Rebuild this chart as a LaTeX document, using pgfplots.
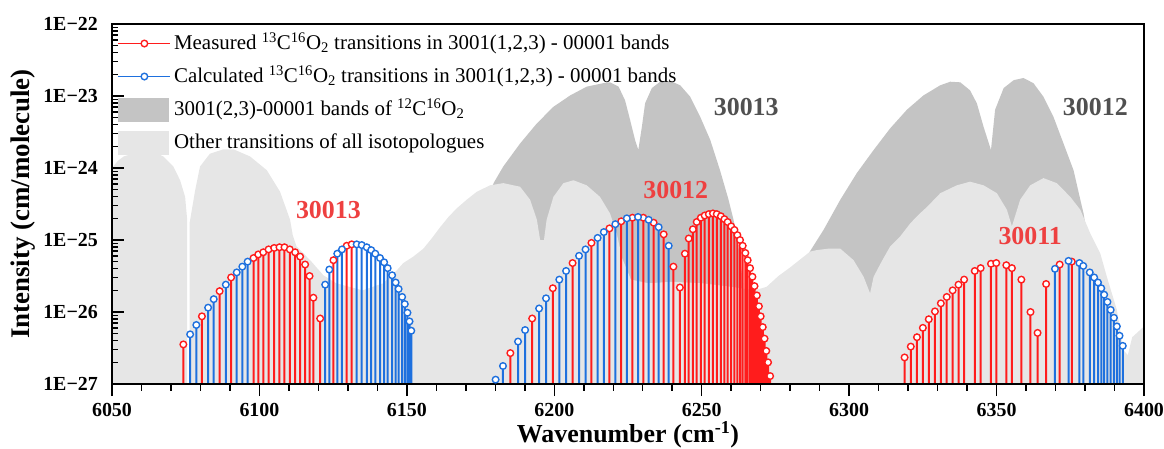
\documentclass[border=0pt]{standalone}
\usepackage{pgfplots}
\pgfplotsset{compat=1.18}
\usepackage{fontspec}
\setmainfont{Liberation Serif}
\definecolor{cred}{RGB}{255,28,28}
\definecolor{cblue}{RGB}{30,112,222}
\definecolor{gdark}{RGB}{196,196,196}
\definecolor{glight}{RGB}{230,230,230}
\definecolor{lblred}{RGB}{238,64,64}
\definecolor{lblgray}{RGB}{80,80,80}
\pgfplotsset{
  stem/.style={ybar, bar shift=0pt, bar width=2bp, draw=none, fill=#1,
    mark=*, mark size=3.3bp, mark options={draw=#1, fill=white, line width=1.4bp}, forget plot},
}
\begin{document}
\begin{tikzpicture}
\begin{axis}[
  scale only axis, width=1032bp, height=360bp,
  xmin=6050, xmax=6400, ymode=log, ymin=1e-27, ymax=1e-22, log origin=infty,
  axis on top,
  xtick={6050,6100,6150,6200,6250,6300,6350,6400},
  xticklabels={6050,6100,6150,6200,6250,6300,6350,6400},
  minor x tick num=4,
  ytick={1e-27,1e-26,1e-25,1e-24,1e-23,1e-22},
  yticklabels={1E−27,1E−26,1E−25,1E−24,1E−23,1E−22},
  minor ytick={2e-27,3e-27,4e-27,5e-27,6e-27,7e-27,8e-27,9e-27,
    2e-26,3e-26,4e-26,5e-26,6e-26,7e-26,8e-26,9e-26,
    2e-25,3e-25,4e-25,5e-25,6e-25,7e-25,8e-25,9e-25,
    2e-24,3e-24,4e-24,5e-24,6e-24,7e-24,8e-24,9e-24,
    2e-23,3e-23,4e-23,5e-23,6e-23,7e-23,8e-23,9e-23},
  xtick pos=bottom, ytick pos=left,
  tick align=inside,
  major tick length=12bp, minor tick length=6.5bp,
  every tick/.style={black, line width=1.5bp},
  major x tick style={yshift=-12bp},
  minor x tick style={yshift=-6.5bp},
  axis line style={line width=1.6bp},
  xticklabel style={font=\fontsize{20}{24}\selectfont\bfseries, inner sep=0pt, anchor=north, yshift=-19bp},
  yticklabel style={font=\fontsize{20}{24}\selectfont\bfseries, inner sep=0pt, anchor=east, xshift=-14bp},
  xlabel={Wavenumber (cm\textsuperscript{-1})},
  ylabel={Intensity (cm/molecule)},
  xlabel style={font=\fontsize{26}{31}\selectfont\bfseries, inner sep=0pt, at={(axis description cs:0.5,-0.163)}, anchor=base},
  ylabel style={font=\fontsize{27}{32}\selectfont\bfseries, inner sep=0pt, at={(axis description cs:-0.0795,0.5)}, anchor=base},
  legend style={at={(0,1)}, anchor=north west, xshift=5.5bp, yshift=-7.3bp,
    draw=none, fill=none, inner sep=0pt, row sep=9bp, column sep=3bp,
    nodes={inner sep=0pt, text height=17bp, text depth=5bp, font=\fontsize{21}{25}\selectfont}},
  legend cell align=left,
]
% dark gray: 3001(2,3)-00001 bands of 12C16O2
\addplot[fill=gdark, draw=none, forget plot] coordinates {
(6177,1e-27) (6177,3.16e-25) (6179.4,6.17e-25) (6182.7,1.05e-24) (6188.4,2.19e-24) (6194.1,4.17e-24)
(6199.7,7.08e-24) (6205.4,1.02e-23) (6211.0,1.35e-23) (6216.7,1.51e-23) (6218.9,1.55e-23)
(6221.8,1.35e-23) (6224.0,8.71e-24) (6225.7,4.68e-24) (6227.4,2.45e-24) (6228.5,1.78e-24)
(6229.7,3.72e-24) (6230.8,7.94e-24) (6233.1,1.29e-23) (6235.9,1.58e-23) (6239.3,1.62e-23)
(6242.7,1.41e-23) (6246.1,9.77e-24) (6249.5,5.13e-24) (6252.9,2.45e-24) (6256.2,9.33e-25)
(6259.1,3.63e-25) (6260.8,1.91e-25) (6262.5,7.94e-26) (6264,2.51e-26) (6264,1e-27)};
\addplot[fill=gdark, draw=none, forget plot] coordinates {
(6283,1e-27) (6283,3.16e-26) (6285.6,5.89e-26) (6291.3,1.38e-25) (6297,3.63e-25) (6302.6,8.51e-25)
(6308.3,1.78e-24) (6313.9,3.55e-24) (6319.6,6.46e-24) (6325.2,1.02e-23) (6330.9,1.41e-23)
(6334.3,1.58e-23) (6337.7,1.55e-23) (6341.0,1.20e-23) (6343.3,7.94e-24) (6345.6,3.72e-24)
(6348.1,1.78e-24) (6349.5,6.46e-24) (6352.4,1.29e-23) (6355.8,1.66e-23) (6359.1,1.78e-23)
(6362.5,1.51e-23) (6365.9,9.77e-24) (6369.3,5.13e-24) (6372.7,2.19e-24) (6376.1,9.33e-25)
(6378.4,3.63e-25) (6379.5,2.34e-25) (6381,1.00e-25) (6382,3.16e-26) (6382,1e-27)};
% light gray: other transitions
\addplot[fill=glight, draw=none, forget plot] coordinates {
(6050,1e-27) (6050,1.00e-24) (6052,1.26e-24) (6054,1.45e-24) (6059.5,1.70e-24) (6064.0,1.70e-24)
(6067.4,1.45e-24) (6070.8,1.05e-24) (6073.1,6.76e-25) (6074.8,3.98e-25) (6075.5,1.91e-25) (6075.5,1e-27)};
\addplot[fill=glight, draw=none, forget plot] coordinates {
(6076.3,1e-27) (6076.3,1.70e-25) (6078.2,4.90e-25) (6079.85,1.05e-24) (6083.2,1.58e-24)
(6087.8,1.82e-24) (6091.2,1.82e-24) (6096.8,1.45e-24) (6102.5,9.33e-25) (6107.0,4.68e-25)
(6110.4,1.91e-25) (6111.3,1.17e-25) (6112.6,8.13e-26) (6117.2,5.25e-26) (6121.7,3.24e-26)
(6126,2.51e-26) (6135,2.00e-26) (6142,2.51e-26) (6146.6,3.80e-26) (6148.8,4.79e-26)
(6152.2,5.89e-26) (6155.6,7.59e-26) (6158.4,1.05e-25) (6161.3,1.51e-25) (6164.1,2.09e-25)
(6166.9,2.75e-25) (6170.3,3.63e-25) (6173.7,4.68e-25) (6178.2,5.75e-25) (6182.7,6.17e-25)
(6188.4,5.50e-25) (6191.8,3.63e-25) (6194.1,1.91e-25) (6195.2,1.00e-25) (6196.5,1.00e-25)
(6197.4,1.91e-25) (6199.7,3.98e-25) (6203.1,6.17e-25) (6206.5,6.76e-25) (6211.0,5.75e-25)
(6215.5,3.98e-25) (6218.9,2.34e-25) (6221.2,1.23e-25) (6223,5.62e-26) (6226,2.82e-26)
(6232,2.51e-26) (6240,2.63e-26) (6250,2.51e-26) (6260,2.24e-26) (6268,2.00e-26)
(6272,2.24e-26) (6276,3.16e-26) (6280,4.17e-26) (6284,5.62e-26) (6286.8,6.92e-26)
(6289,7.24e-26) (6293,7.59e-26) (6297,7.59e-26) (6301.5,5.25e-26) (6304.9,3.09e-26)
(6307.1,1.82e-26) (6308.3,3.09e-26) (6311,5.01e-26) (6313.9,8.13e-26) (6317.3,1.12e-25)
(6320.7,1.70e-25) (6323.5,2.24e-25) (6326.4,2.88e-25) (6330.9,4.47e-25) (6336.5,5.75e-25)
(6341.0,6.46e-25) (6345.6,5.75e-25) (6350.1,4.47e-25) (6353.5,2.63e-25) (6355.2,1.55e-25)
(6358.0,3.63e-25) (6361.4,5.75e-25) (6365.9,7.24e-25) (6370.4,6.17e-25) (6375.0,3.98e-25)
(6378.4,2.63e-25) (6381.8,1.23e-25) (6385.2,6.46e-26) (6387.4,3.09e-26) (6390.8,1.07e-26)
(6393.1,2.95e-27) (6394.5,2.51e-27) (6396,4.47e-27) (6400,6.31e-27) (6400,1e-27)};
% measured (red)
\addplot[stem=cred] coordinates {
(6074.2,3.55e-27) (6080.5,8.71e-27) (6086.5,1.95e-26) (6090.4,3.02e-26) (6098.0,5.62e-26)
(6099.6,6.31e-26) (6101.3,6.76e-26) (6103.1,7.41e-26) (6105.0,7.76e-26) (6106.8,7.94e-26)
(6108.5,7.94e-26) (6110.3,7.41e-26) (6112.1,6.76e-26) (6113.8,5.89e-26) (6115.5,4.57e-26)
(6117.0,3.16e-26) (6118.3,1.58e-26) (6120.6,8.13e-27) (6125.1,5.25e-26) (6129.6,8.32e-26)
(6131.3,8.71e-26)
(6185.1,2.69e-27) (6192.5,8.13e-27) (6199.5,2.14e-26) (6206.2,4.79e-26) (6212.6,9.12e-26)
(6218.7,1.45e-25) (6222.7,1.82e-25) (6226.5,2.04e-25) (6230.2,2.04e-25) (6233.7,1.74e-25)
(6237.1,1.20e-25) (6240.4,4.27e-26) (6242.6,2.19e-26) (6244.3,6.46e-26) (6245.6,1.05e-25)
(6247.0,1.41e-25) (6248.3,1.78e-25) (6249.7,2.04e-25) (6251.0,2.19e-25) (6252.4,2.29e-25)
(6253.8,2.34e-25) (6255.1,2.29e-25) (6256.5,2.14e-25) (6257.7,1.95e-25) (6258.8,1.78e-25)
(6260.0,1.55e-25) (6261.1,1.38e-25) (6262.1,1.17e-25) (6263.0,1.00e-25) (6263.9,8.32e-26)
(6264.8,6.61e-26) (6265.6,5.25e-26) (6266.4,4.07e-26) (6267.2,3.09e-26) (6267.9,2.29e-26)
(6268.7,1.70e-26) (6269.4,1.20e-26) (6270.0,8.71e-27) (6270.7,6.17e-27) (6271.3,4.27e-27)
(6271.9,2.88e-27) (6272.5,2.00e-27) (6273.2,1.29e-27)
(6318.8,2.34e-27) (6320.9,3.31e-27) (6323.0,4.47e-27) (6325.0,6.03e-27) (6327.0,7.94e-27)
(6329.1,1.02e-26) (6331.1,1.32e-26) (6333.1,1.62e-26) (6335.1,2.00e-26) (6337.1,2.40e-26)
(6339.0,2.82e-26) (6342.6,3.72e-26) (6344.6,4.07e-26) (6348.1,4.68e-26) (6349.9,4.79e-26)
(6353.3,4.47e-26) (6355.2,4.07e-26) (6358.4,2.82e-26) (6361.5,1.00e-26) (6363.9,5.13e-27)
(6366.8,2.45e-26) (6371.4,4.57e-26) (6375.5,5.01e-26)};
% calculated (blue)
\addplot[stem=cblue] coordinates {
(6076.5,4.90e-27) (6078.6,6.61e-27) (6082.6,1.15e-26) (6084.5,1.51e-26) (6088.6,2.40e-26)
(6092.3,3.55e-26) (6094.2,4.27e-26) (6096.0,5.01e-26) (6122.3,2.40e-26) (6123.7,3.89e-26)
(6126.4,6.46e-26) (6128.0,7.41e-26) (6133.0,8.71e-26) (6134.7,8.51e-26) (6136.4,7.94e-26)
(6137.9,7.24e-26) (6139.3,6.46e-26) (6140.9,5.62e-26) (6142.3,4.90e-26) (6143.5,4.07e-26)
(6145.0,3.24e-26) (6146.2,2.57e-26) (6147.2,2.09e-26) (6148.4,1.62e-26) (6149.3,1.29e-26)
(6150.2,9.77e-27) (6150.9,7.41e-27) (6151.5,5.50e-27)
(6180.1,1.15e-27) (6182.6,1.78e-27) (6187.7,3.89e-27) (6190.1,5.62e-27) (6194.85,1.12e-26)
(6197.2,1.55e-26) (6201.7,2.82e-26) (6204.0,3.72e-26) (6208.4,6.03e-26) (6210.6,7.41e-26)
(6214.7,1.07e-25) (6216.8,1.29e-25) (6220.7,1.66e-25) (6224.6,2.00e-25) (6228.4,2.09e-25)
(6232.0,1.91e-25) (6235.4,1.51e-25) (6238.8,8.32e-26)
(6369.8,3.98e-26) (6374.4,5.13e-26) (6378.1,4.79e-26) (6379.4,4.37e-26) (6381.6,3.55e-26)
(6383.1,3.02e-26) (6384.4,2.57e-26) (6385.5,2.14e-26) (6386.5,1.74e-26) (6387.6,1.38e-26)
(6388.7,1.07e-26) (6389.8,8.32e-27) (6390.8,6.31e-27) (6391.7,4.68e-27) (6392.8,3.39e-27)};
% band labels
\node[text=lblred, font=\fontsize{26}{30}\selectfont\bfseries] at (axis cs:6123.4,2.63e-25) {30013};
\node[text=lblred, font=\fontsize{26}{30}\selectfont\bfseries] at (axis cs:6241.2,4.90e-25) {30012};
\node[text=lblred, font=\fontsize{26}{30}\selectfont\bfseries] at (axis cs:6361.4,1.12e-25) {30011};
\node[text=lblgray, font=\fontsize{26}{30}\selectfont\bfseries] at (axis cs:6265.1,7.08e-24) {30013};
\node[text=lblgray, font=\fontsize{26}{30}\selectfont\bfseries] at (axis cs:6383.5,7.08e-24) {30012};
% legend
\addlegendimage{legend image code/.code={
  \path[draw=none, fill=none] (0bp,-12bp) rectangle (52bp,12bp);
  \draw[cred, line width=1.4bp, mark=*, mark size=3.3bp, mark repeat=2, mark phase=2,
    mark options={fill=white, draw=cred, line width=1.4bp}] plot coordinates {(0bp,0bp) (26bp,0bp) (52bp,0bp)};}}
\addlegendentry{Measured \textsuperscript{13}C\textsuperscript{16}O\textsubscript{2} transitions in 3001(1,2,3) - 00001 bands}
\addlegendimage{legend image code/.code={
  \path[draw=none, fill=none] (0bp,-12bp) rectangle (52bp,12bp);
  \draw[cblue, line width=1.4bp, mark=*, mark size=3.3bp, mark repeat=2, mark phase=2,
    mark options={fill=white, draw=cblue, line width=1.4bp}] plot coordinates {(0bp,0bp) (26bp,0bp) (52bp,0bp)};}}
\addlegendentry{Calculated \textsuperscript{13}C\textsuperscript{16}O\textsubscript{2} transitions in 3001(1,2,3) - 00001 bands}
\addlegendimage{legend image code/.code={\fill[gdark, draw=none] (0bp,-12bp) rectangle (51bp,12bp);}}
\addlegendentry{3001(2,3)-00001 bands of \textsuperscript{12}C\textsuperscript{16}O\textsubscript{2}}
\addlegendimage{legend image code/.code={\fill[glight, draw=none] (0bp,-12bp) rectangle (51bp,12bp);}}
\addlegendentry{Other transitions of all isotopologues}
\end{axis}
\pgfresetboundingbox
\path ([shift={(-112bp,-64bp)}]current axis.south west) rectangle ([shift={(20bp,24bp)}]current axis.north east);
\end{tikzpicture}
\end{document}
